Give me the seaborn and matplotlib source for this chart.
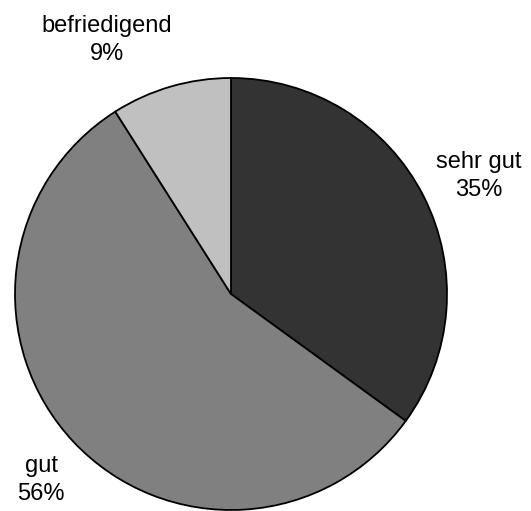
import matplotlib
matplotlib.use("Agg")
import matplotlib.pyplot as plt
import seaborn as sns

sns.set_theme(style="white")
plt.rcParams['font.family'] = ['Liberation Sans', 'DejaVu Sans']

# data
labels = ['sehr gut', 'gut', 'befriedigend']
values = [35, 56, 9]
colors = ['#333333', '#808080', '#c0c0c0']

# label anchor points in pixel space (x, y from top)
label_pos = [(479, 176), (41, 480), (107, 40)]

W, H = 531, 511
fig = plt.figure(figsize=(W / 100, H / 100), dpi=100)
ax = fig.add_axes([0, 0, 1, 1])

cx, cy, r = 231, H - 294, 216
ax.pie(values, colors=colors, startangle=90, counterclock=False,
       center=(cx, cy), radius=r, frame=True,
       wedgeprops=dict(edgecolor='black', linewidth=1.3))
ax.set_xlim(0, W)
ax.set_ylim(0, H)
ax.set_aspect('equal')
ax.axis('off')

for lab, v, (x, y) in zip(labels, values, label_pos):
    ax.text(x, H - y, f'{lab}\n{v}%', ha='center', va='center',
            fontsize=17, linespacing=1.4, color='black')

fig.savefig('out.png', dpi=100)
